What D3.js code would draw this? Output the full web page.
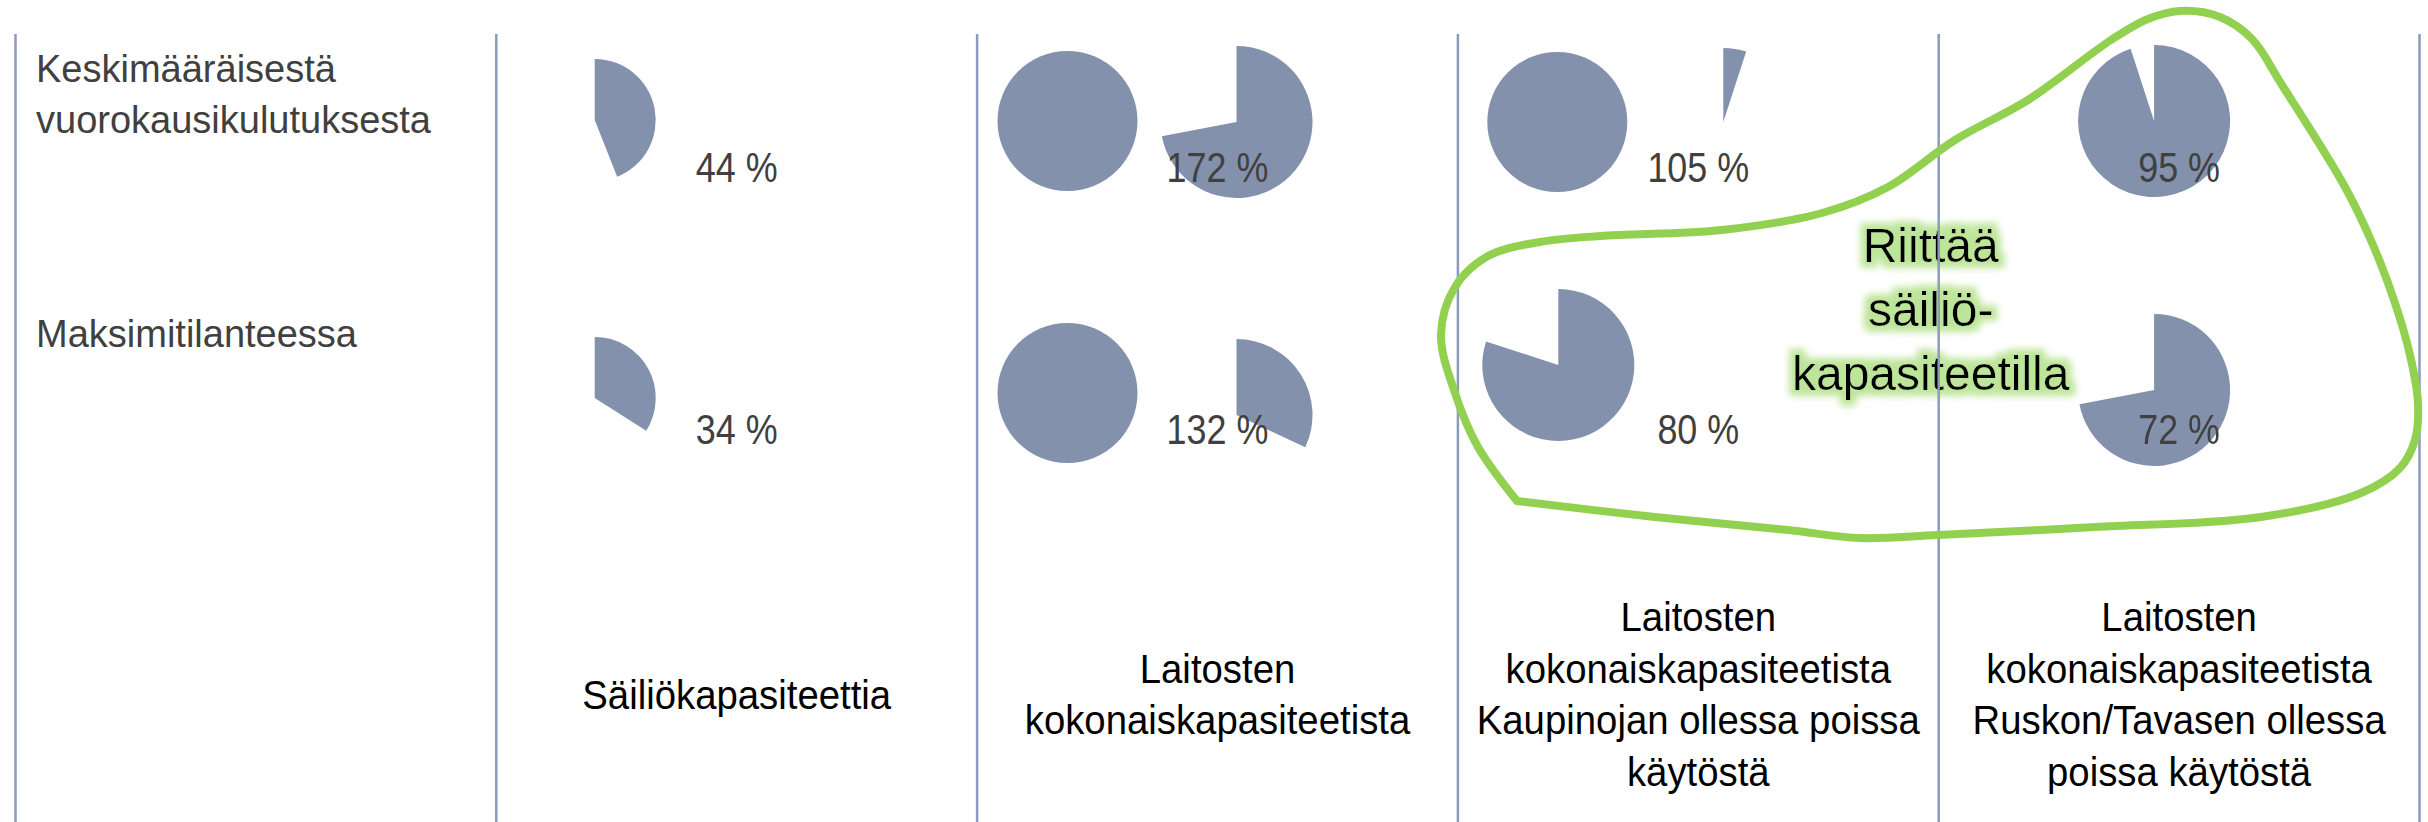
<!DOCTYPE html>
<html lang="fi">
<head>
    <meta charset="utf-8">
    <title>Riittävyys</title>
    <script src="https://d3js.org/d3.v7.min.js" charset="utf-8"></script>
    <style>
        html, body { margin: 0; padding: 0; background: #fff; }
        svg { display: block; }
    </style>
</head>
<body>

    <script>

    // --- data ---
    var rowLabels = [["Keskimääräisestä", "vuorokausikulutuksesta"], ["Maksimitilanteessa"]]
    var categories = [
        ["Säiliökapasiteettia"],
        ["Laitosten", "kokonaiskapasiteetista"],
        ["Laitosten", "kokonaiskapasiteetista", "Kaupinojan ollessa poissa", "käytöstä"],
        ["Laitosten", "kokonaiskapasiteetista", "Ruskon/Tavasen ollessa", "poissa käytöstä"]
    ]
    var avgDaily = [44, 172, 105, 95]     // % keskimääräisestä vuorokausikulutuksesta
    var maxCase = [34, 132, 80, 72]       // % maksimitilanteessa
    var highlightText = ["Riittää", "säiliö-", "kapasiteetilla"]

    // --- layout (each pie was its own little chart, so they sit a bit unevenly) ---
    var w = 2428, h = 822
    var pieColor = "#8491ad", lineColor = "#8b9bbd", textGray = "#404040", green = "#92d050"
    var rowValueBaseline = [182, 444]
    var pieLayout = [
        [{dx: [-142], cy: [120], r: [61]}, {dx: [-142], cy: [398], r: [61]}],
        [{dx: [-150, 19], cy: [121, 122], r: [70, 76]}, {dx: [-150, 19], cy: [393, 415], r: [70, 76]}],
        [{dx: [-141, 25], cy: [122, 122], r: [70, 74]}, {dx: [-140], cy: [365], r: [76]}],
        [{dx: [-25], cy: [121], r: [76]}, {dx: [-25], cy: [390], r: [76]}]
    ]
    var outline = [[1517,501],[1478,447],[1455,393],[1441,335],[1455,287],[1488,256],[1540,242],[1600,236],
        [1722,230],[1822,213],[1888,187],[1955,140],[2028,100],[2111,40],[2148,19],[2180,11],[2220,17],
        [2252,39],[2282,85],[2345,187],[2373,245],[2395,303],[2410,355],[2418,403],[2415,440],[2400,468],
        [2361,493],[2261,517],[2095,527],[1938,535],[1860,538],[1788,530],[1655,517],[1517,501]]

    var svg = d3.select("body").append("svg").attr("width", w).attr("height", h)

    var defs = svg.append("defs")
    var glow = defs.append("filter").attr("id", "glow").attr("x", "-20%").attr("y", "-40%").attr("width", "140%").attr("height", "180%")
    glow.append("feMorphology").attr("in", "SourceAlpha").attr("operator", "dilate").attr("radius", 6).attr("result", "fat")
    glow.append("feGaussianBlur").attr("in", "fat").attr("stdDeviation", 3.5).attr("result", "soft")
    glow.append("feFlood").attr("flood-color", "#bde59a").attr("flood-opacity", 1)
    glow.append("feComposite").attr("in2", "soft").attr("operator", "in").attr("result", "halo")
    var merge = glow.append("feMerge")
    merge.append("feMergeNode").attr("in", "halo")
    merge.append("feMergeNode").attr("in", "SourceGraphic")

    var x = d3.scaleBand().domain(d3.range(5)).range([15.5, 2419.5])
    var cx = function (i) { return x(i) + x.bandwidth() / 2 }

    // condensed look: the original uses a narrow face, so squeeze a normal one
    function label(g, str, px, py, size, k, anchor, fill) {
        g.append("text")
            .attr("transform", "translate(" + px + "," + py + ") scale(" + k + ",1)")
            .attr("text-anchor", anchor)
            .attr("font-family", "'Liberation Sans', Arial, sans-serif")
            .attr("font-size", size)
            .attr("fill", fill)
            .text(str)
    }

    // highlight text (sits under the grid lines)
    var hl = svg.append("g").attr("filter", "url(#glow)")
    highlightText.forEach(function (t, i) {
        label(hl, t, x(4) - 8, 262 + i * 64, 48, 1, "middle", "#000")
    })

    // row labels
    var rows = svg.append("g")
    rowLabels.forEach(function (lines, r) {
        lines.forEach(function (t, i) {
            label(rows, t, 36, [82, 347][r] + i * 51, 38, 1, "start", textGray)
        })
    })

    // pies
    var pie = d3.pie().sort(null).value(function (d) { return d })
    var pies = svg.append("g")
    ;[avgDaily, maxCase].forEach(function (series, r) {
        series.forEach(function (v, c) {
            var col = c + 1
            var parts = v > 100 ? [100, v - 100] : [v]
            var lay = pieLayout[c][r]
            parts.forEach(function (p, k) {
                var arc = d3.arc().innerRadius(0).outerRadius(lay.r[k])
                pies.append("path")
                    .datum(pie([p, 100 - p])[0])
                    .attr("transform", "translate(" + (cx(col) + lay.dx[k]) + "," + lay.cy[k] + ")")
                    .attr("d", arc)
                    .attr("fill", pieColor)
            })
            label(pies, v + " %", cx(col), rowValueBaseline[r], 42, 0.855, "middle", textGray)
        })
    })

    // category labels at the bottom
    var cats = svg.append("g")
    categories.forEach(function (lines, c) {
        var n = lines.length
        lines.forEach(function (t, i) {
            label(cats, t, cx(c + 1), 708.5 + (i - (n - 1) / 2) * 51.5, 41, 0.935, "middle", "#000")
        })
    })

    // column separators
    var edges = x.domain().map(function (i) { return x(i) }).concat([x(4) + x.bandwidth()])
    svg.append("g").selectAll("line").data(edges).join("line")
        .attr("x1", function (d) { return d }).attr("x2", function (d) { return d })
        .attr("y1", 34).attr("y2", h)
        .attr("stroke", lineColor).attr("stroke-width", 2.5)

    // freehand green loop
    var loop = d3.line().curve(d3.curveCatmullRom.alpha(0.5))
    svg.append("path").attr("d", loop(outline))
        .attr("fill", "none").attr("stroke", green).attr("stroke-width", 8)
        .attr("stroke-linejoin", "round").attr("stroke-linecap", "round")

    </script>

</body>
</html>
